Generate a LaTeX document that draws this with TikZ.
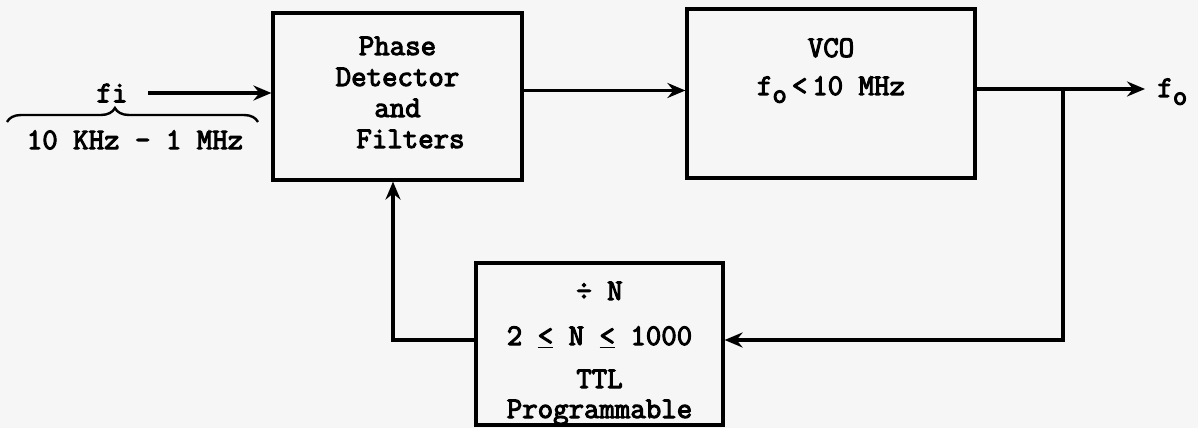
\documentclass[tikz,border=0pt]{standalone}
\usepackage{fontspec}
\newfontfamily\typewfont{Latin Modern Mono}[FakeBold=3.5]
\usepackage{xcolor}
\usepackage{tikz}
\usetikzlibrary{arrows.meta, positioning, decorations.pathreplacing}
\definecolor{paper}{RGB}{246,246,246}
\newcommand{\fsubo}{f\raisebox{-0.6ex}{\fontsize{14pt}{14pt}\selectfont o}}
\newcommand{\lequ}{\underline{<}}

\begin{document}
\begin{tikzpicture}[x=0.5pt, y=0.5pt,
    box/.style={rectangle, draw, line width=1.6pt, align=center, inner sep=0pt, font=\fontsize{15pt}{15.5pt}\selectfont\typewfont},
    lbl/.style={inner sep=1pt, font=\fontsize{15pt}{15.5pt}\selectfont\typewfont},
    arrow/.style={-{Stealth[length=9pt, width=7.5pt, inset=3pt]}, line width=1.6pt},
    wire/.style={line width=1.6pt}]
    \path[use as bounding box, fill=paper] (0,0) rectangle (1198,428);

    % Blocks
    \node[box, minimum width=124.5pt, minimum height=83.5pt] (pd) at (397.5,331.5) {\rule{0pt}{21pt}Phase\\Detector\\and\\\hspace*{13pt}Filters\rule[-16pt]{0pt}{16pt}};
    \node[box, minimum width=144pt, minimum height=84.5pt] (vco) at (831,334.5) {\rule{0pt}{24pt}VCO\\[3.5pt]\fsubo\,<\,10 MHz\rule[-41.5pt]{0pt}{41.5pt}};
    \node[box, minimum width=123.5pt, minimum height=81pt] (div) at (599.5,84) {\rule{0pt}{18.5pt}÷ N\\[7pt]2 \lequ{} N \lequ{} 1000\\[6pt]TTL\\[-0.5pt]Programmable\rule[-3.5pt]{0pt}{3.5pt}};

    % Input
    \node[lbl] (fi) at (112,335) {fi};
    \coordinate (bl) at (7,306);
    \coordinate (br) at (258,306);
    \draw[line width=1.2pt, decorate, decoration={brace, amplitude=7pt, aspect=0.43}] (bl) -- (br);
    \node[lbl] (range) at (135,288) {10 KHz - 1 MHz};

    % Output
    \coordinate (tap) at (1063,339);
    \coordinate (out) at (1145,339);
    \node[lbl, anchor=base west] (fo) at ([xshift=5pt, yshift=-4pt]out) {\fsubo};

    % Arrows
    \draw[arrow] ([xshift=9pt]fi.east) -- (fi.east -| pd.west);
    \draw[arrow] ([yshift=3pt]pd.east) -- ([yshift=3pt]pd.east -| vco.west);
    \draw[arrow] (vco.east |- tap) -- (out);
    \draw[arrow] (tap) |- ([yshift=2pt]div.east);
    \draw[arrow] ([yshift=2pt]div.west) -| ([xshift=-2.25pt]pd.south);
\end{tikzpicture}
\end{document}
